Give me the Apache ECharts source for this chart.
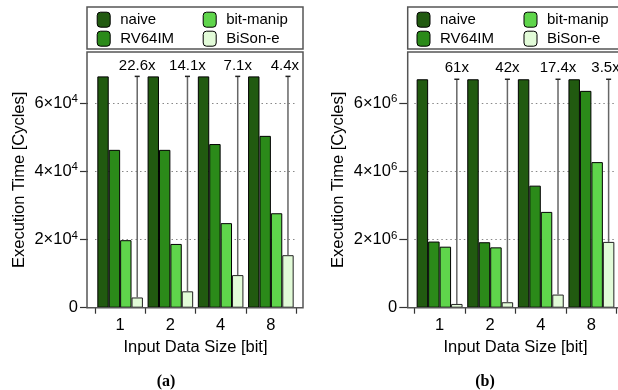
<!DOCTYPE html>
<html>
<head>
<meta charset="utf-8">
<script src="https://cdn.jsdelivr.net/npm/echarts@6/dist/echarts.min.js"></script>
<style>html,body{margin:0;padding:0;background:#fff}#c{width:618px;height:390px}</style>
</head>
<body>
<div id="c"></div>
<script>
const categories = ['1', '2', '4', '8'];
const seriesNames = ['naive', 'RV64IM', 'bit-manip', 'BiSon-e'];
const colors = ['#215a10', '#2b8a19', '#5fd54b', '#e2fbd8'];

// (a)
const aNaive = [67850, 67850, 67850, 67850];
const aRV64IM = [46300, 46300, 48000, 50400];
const aBitManip = [19800, 18700, 24800, 27700];
const aBiSonE = [3000, 4800, 9560, 15400];
const aSpeedup = ['22.6x', '14.1x', '7.1x', '4.4x'];
const aTicks = [0, 20000, 40000, 60000];

// (b)
const bNaive = [6700000, 6700000, 6700000, 6700000];
const bRV64IM = [1940000, 1920000, 3580000, 6360000];
const bBitManip = [1790000, 1770000, 2810000, 4270000];
const bBiSonE = [110000, 160000, 385000, 1930000];
const bSpeedup = ['61x', '42x', '17.4x', '3.5x'];
const bTicks = [0, 2000000, 4000000, 6000000];

const FONT = "'Liberation Sans', Arial, Helvetica, sans-serif";
const BAR_CAT_GAP = 0.093;

function bars(gi, arrs) {
  return arrs.map((d, i) => ({
    type: 'bar', name: seriesNames[i], xAxisIndex: gi, yAxisIndex: gi,
    data: d, barGap: '0%', barCategoryGap: (BAR_CAT_GAP * 100) + '%',
    itemStyle: { color: colors[i], borderColor: i === 3 ? '#222' : '#000', borderWidth: 1 },
    emphasis: { disabled: true }
  }));
}

function speedup(gi, low, high, labels) {
  return {
    type: 'custom', xAxisIndex: gi, yAxisIndex: gi, z: 5,
    data: low.map((v, i) => [i, v, high[i], labels[i]]),
    renderItem: function (params, api) {
      const idx = api.value(0);
      const lo = api.coord([idx, api.value(1)]);
      const hi = api.coord([idx, api.value(2)]);
      const band = api.size([1, 0])[0];
      const bw = band * (1 - BAR_CAT_GAP) / 4;
      const x = lo[0] + 1.5 * bw;
      const last = idx === labels.length - 1;
      const right = params.coordSys.x + params.coordSys.width + 3;
      return {
        type: 'group',
        children: [
          { type: 'line', shape: { x1: x, y1: lo[1], x2: x, y2: hi[1] }, style: { stroke: '#666', lineWidth: 1.5 } },
          { type: 'line', shape: { x1: x - 2.5, y1: hi[1], x2: x + 2.5, y2: hi[1] }, style: { stroke: '#222', lineWidth: 1.5 } },
          { type: 'text', style: { x: last ? right : x, y: hi[1] - 3.5, text: labels[idx], textAlign: last ? 'right' : 'center', textVerticalAlign: 'bottom', fontSize: 15, fontFamily: FONT, fill: '#000' } }
        ]
      };
    }
  };
}

function yLabel(exp) {
  return function (v) {
    if (v === 0) return '{m|0}';
    return '{m|' + Math.round(v / Math.pow(10, exp)) + '×10}{s|' + exp + '}';
  };
}

function xAxis(gi) {
  return {
    gridIndex: gi, type: 'category', data: categories,
    axisLine: { show: false },
    axisTick: { show: true, length: 6, lineStyle: { color: '#333', width: 1.2 } },
    axisLabel: { fontSize: 16.5, fontFamily: FONT, color: '#000', margin: 9 },
    name: 'Input Data Size [bit]', nameLocation: 'middle', nameGap: 27,
    nameTextStyle: { fontSize: 16.5, fontFamily: FONT, color: '#000' }
  };
}

function yAxis(gi, max, interval, ticks, exp) {
  return {
    gridIndex: gi, type: 'value', min: 0, max: max, interval: interval, offset: 7,
    axisLine: { show: false },
    axisTick: { show: true, length: 8, customValues: ticks, lineStyle: { color: '#333', width: 1.2 } },
    axisLabel: {
      customValues: ticks, formatter: yLabel(exp), margin: 10,
      rich: {
        m: { fontSize: 16.5, fontFamily: FONT, color: '#000' },
        s: { fontSize: 11.5, fontFamily: FONT, color: '#000', verticalAlign: 'top', padding: [0, 0, 8, 0] }
      }
    },
    splitLine: { show: true, lineStyle: { color: '#888', type: [1.5, 3], width: 1 } },
    name: 'Execution Time [Cycles]', nameLocation: 'middle', nameGap: 60,
    nameTextStyle: { fontSize: 16.5, fontFamily: FONT, color: '#000' }
  };
}

function legend(left, top, names) {
  return {
    left: left, top: top, orient: 'vertical', padding: 0, itemGap: 3,
    itemWidth: 13, itemHeight: 15, icon: 'roundRect', data: names,
    selectedMode: false,
    itemStyle: { borderColor: '#000', borderWidth: 1 },
    textStyle: { fontSize: 15, fontFamily: FONT, color: '#000', padding: [0, 0, 0, 5] }
  };
}

function box(x, y, w, h) {
  return { type: 'rect', shape: { x: x, y: y, width: w, height: h }, style: { fill: 'none', stroke: '#555', lineWidth: 1.5 }, z: 10, silent: true };
}

const chart = echarts.init(document.getElementById('c'), null, { renderer: 'canvas' });
chart.setOption({
  animation: false,
  grid: [
    { left: 95, width: 201, top: 52, height: 255.7 },
    { left: 414.3, width: 202.4, top: 52, height: 255.7 }
  ],
  xAxis: [xAxis(0), xAxis(1)],
  yAxis: [yAxis(0, 75000, 20000, aTicks, 4), yAxis(1, 7500000, 2000000, bTicks, 6)],
  legend: [
    legend(96.7, 11.7, ['naive', 'RV64IM']),
    legend(202.7, 11.7, ['bit-manip', 'BiSon-e']),
    legend(416.5, 11.7, ['naive', 'RV64IM']),
    legend(523.5, 11.7, ['bit-manip', 'BiSon-e'])
  ],
  series: [].concat(
    bars(0, [aNaive, aRV64IM, aBitManip, aBiSonE]),
    [speedup(0, aBiSonE, aNaive, aSpeedup)],
    bars(1, [bNaive, bRV64IM, bBitManip, bBiSonE]),
    [speedup(1, bBiSonE, bNaive, bSpeedup)]
  ),
  graphic: [
    box(87, 52, 216, 255.7),
    box(87, 7, 216, 42),
    box(407.7, 52, 216, 255.7),
    box(407.7, 7, 216, 42),
    { type: 'text', style: { x: 166, y: 381.5, text: '(a)', textAlign: 'center', textVerticalAlign: 'middle', font: "bold 16px 'Liberation Serif', 'Times New Roman', serif", fill: '#000' } },
    { type: 'text', style: { x: 485, y: 381.5, text: '(b)', textAlign: 'center', textVerticalAlign: 'middle', font: "bold 16px 'Liberation Serif', 'Times New Roman', serif", fill: '#000' } }
  ]
});
</script>
</body>
</html>
